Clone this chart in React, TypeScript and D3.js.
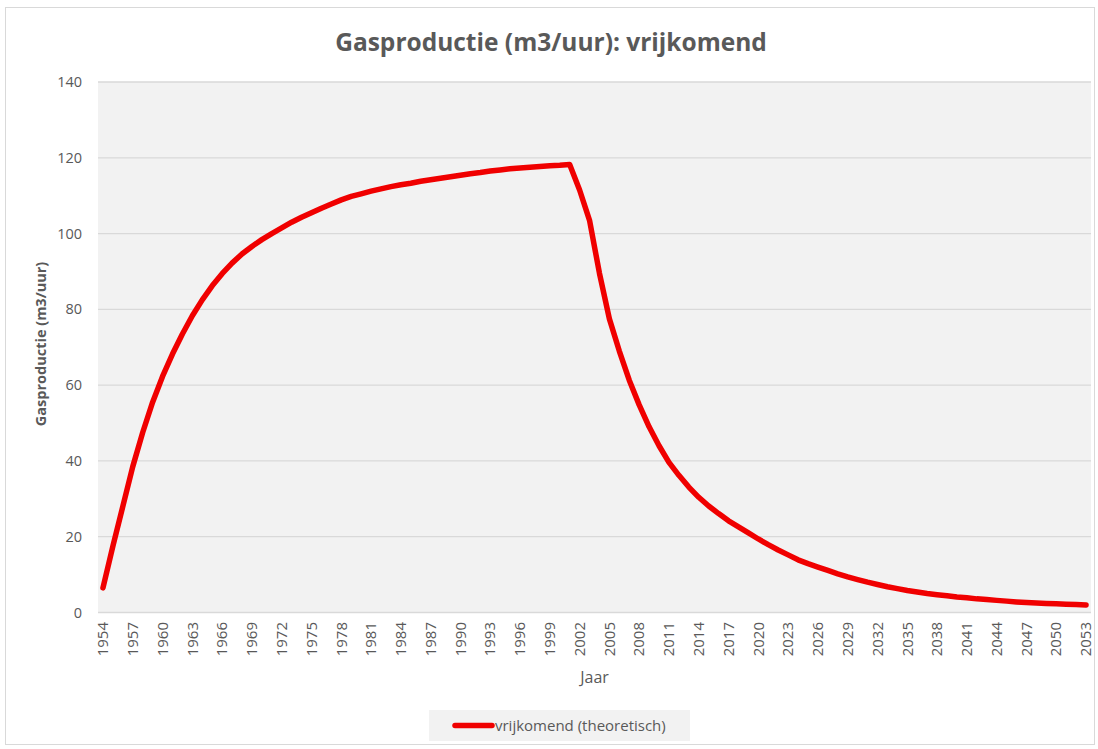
import React from "react";
import * as d3 from "d3";

const years: string[] = d3.range(1954, 2054).map((y) => String(y));

const values: number[] = [
  6.5, 17.5, 28, 38.5, 47.5, 55.5, 62.3, 68.2, 73.5, 78.3,
  82.5, 86.2, 89.4, 92.2, 94.6, 96.6, 98.4, 100, 101.5, 103,
  104.3, 105.5, 106.7, 107.8, 108.9, 109.8, 110.5, 111.2, 111.8, 112.4,
  112.9, 113.3, 113.8, 114.2, 114.6, 115, 115.4, 115.8, 116.1, 116.5,
  116.8, 117.1, 117.3, 117.5, 117.7, 117.9, 118.0, 118.2, 111.5, 103.5,
  89.5, 77.5, 69, 61.3, 54.8, 49, 44, 39.6, 36.2, 33.1,
  30.4, 28.1, 26.1, 24.2, 22.6, 21.0, 19.4, 17.9, 16.5, 15.2,
  13.9, 12.9, 12.0, 11.1, 10.2, 9.4, 8.7, 8.0, 7.4, 6.8,
  6.3, 5.8, 5.4, 5.0, 4.7, 4.4, 4.1, 3.9, 3.6, 3.4,
  3.2, 3.0, 2.8, 2.65, 2.5, 2.4, 2.3, 2.2, 2.1, 2.0,
];

const yTicks: number[] = [0, 20, 40, 60, 80, 100, 120, 140];
const xTickLabels: string[] = years.filter((_, i) => i % 3 === 0);

const title = "Gasproductie (m3/uur): vrijkomend";
const yTitle = "Gasproductie (m3/uur)";
const xTitle = "Jaar";
const seriesName = "vrijkomend (theoretisch)";

export default function App() {
  const W = 1098;
  const H = 749;
  const left = 98;
  const right = 1091;
  const top = 82;
  const bottom = 612.5;

  const x = d3.scaleBand<string>().domain(years).range([left, right]).padding(0);
  const y = d3.scaleLinear().domain([0, 140]).range([bottom, top]);
  const cx = (yr: string) => (x(yr) as number) + x.bandwidth() / 2;

  const line = d3
    .line<number>()
    .x((_, i) => cx(years[i]))
    .y((d) => y(d));

  const font = "'Open Sans', sans-serif";
  const textColor = "#595959";

  return (
    <svg
      width={W}
      height={H}
      style={{ position: "absolute", left: 0, top: 0, display: "block" }}
    >
      <rect x={0} y={0} width={W} height={H} fill="#ffffff" />
      <rect x={5.5} y={7.5} width={1089} height={737} fill="#ffffff" stroke="#d9d9d9" strokeWidth={1} />
      <rect x={left} y={top} width={right - left} height={bottom - top} fill="#f2f2f2" />
      {yTicks.map((t) => (
        <line key={"g" + t} x1={left} x2={right} y1={y(t)} y2={y(t)} stroke="#d9d9d9" strokeWidth={1.3} />
      ))}
      {yTicks.map((t) => (
        <text
          key={"yt" + t}
          x={82}
          y={y(t)}
          dy="0.35em"
          textAnchor="end"
          fontFamily={font}
          fontSize={14.5}
          fill={textColor}
        >
          {t}
        </text>
      ))}
      {xTickLabels.map((yr) => (
        <text
          key={"xt" + yr}
          transform={`translate(${cx(yr)},${622}) rotate(-90)`}
          dy="0.35em"
          textAnchor="end"
          fontFamily={font}
          fontSize={15}
          fill={textColor}
        >
          {yr}
        </text>
      ))}
      <path
        d={line(values) || ""}
        fill="none"
        stroke="#f00000"
        strokeWidth={5.5}
        strokeLinejoin="round"
        strokeLinecap="round"
      />
      <text
        x={551}
        y={51}
        textAnchor="middle"
        fontFamily={font}
        fontWeight="bold"
        fontSize={24.5}
        fill={textColor}
      >
        {title}
      </text>
      <text
        transform={`translate(46,${344}) rotate(-90)`}
        textAnchor="middle"
        fontFamily={font}
        fontWeight="bold"
        fontSize={14.5}
        fill={textColor}
      >
        {yTitle}
      </text>
      <text
        x={(left + right) / 2}
        y={683}
        textAnchor="middle"
        fontFamily={font}
        fontSize={16}
        fill={textColor}
      >
        {xTitle}
      </text>
      <rect x={429} y={710} width={261} height={31} fill="#f2f2f2" />
      <line x1={455} x2={492} y1={725.5} y2={725.5} stroke="#f00000" strokeWidth={5.5} strokeLinecap="round" />
      <text x={495} y={725.5} dy="0.35em" fontFamily={font} fontSize={15} fill={textColor}>
        {seriesName}
      </text>
    </svg>
  );
}
